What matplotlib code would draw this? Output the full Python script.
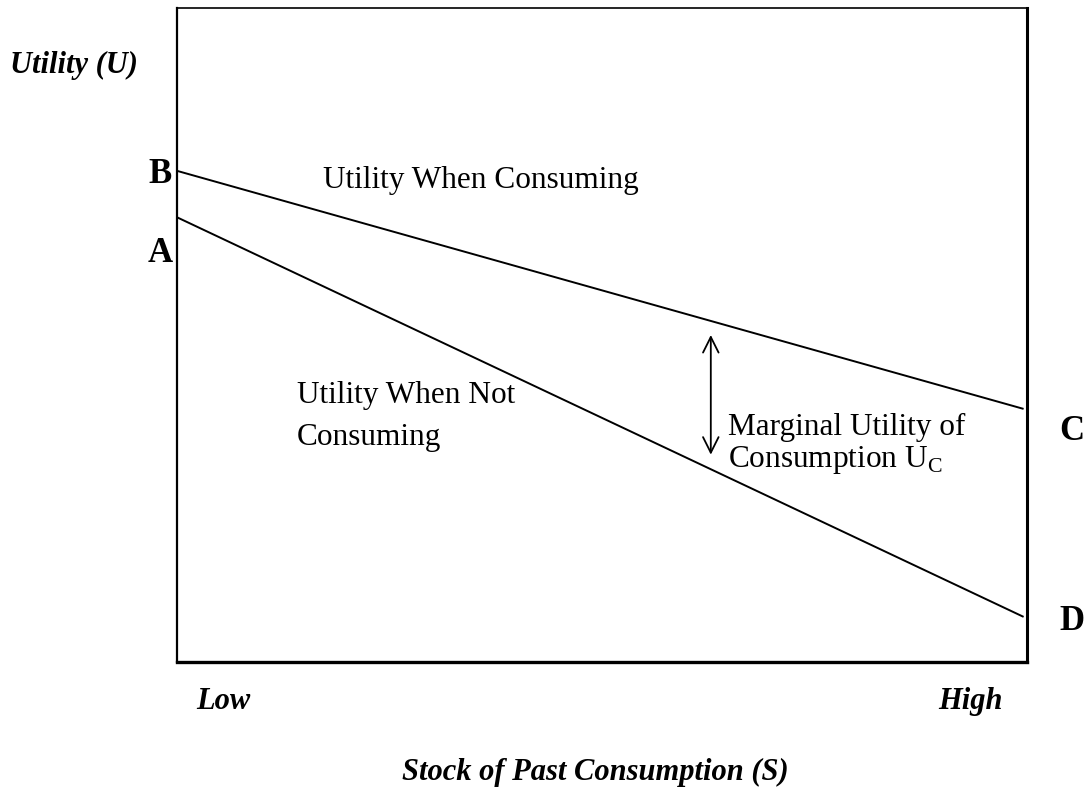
import matplotlib
matplotlib.use("Agg")
import matplotlib.pyplot as plt

# Data (normalized axes units)
stock = [0.0, 0.996]
utility_consuming = [0.751, 0.387]
utility_not_consuming = [0.680, 0.069]
arrow_x = 0.628
arrow_y = [0.317, 0.500]
point_labels = ["B", "A", "C", "D"]
x_tick_labels = ["Low", "High"]

plt.rcParams['font.family'] = ['Liberation Serif', 'DejaVu Serif']
plt.rcParams['mathtext.fontset'] = 'custom'
plt.rcParams['mathtext.rm'] = 'Liberation Serif'

W, H = 1092, 792
fig = plt.figure(figsize=(W / 100, H / 100), dpi=100)
ax = fig.add_axes([177 / W, 1 - 662 / H, 850 / W, 654 / H])
ax.set_xlim(0, 1)
ax.set_ylim(0, 1)
ax.set_xticks([])
ax.set_yticks([])
for side, lw in [("left", 1.6), ("top", 1.2), ("right", 2.2), ("bottom", 2.4)]:
    ax.spines[side].set_linewidth(lw)
    ax.spines[side].set_color("black")

ax.plot(stock, utility_consuming, color="black", lw=1.4, solid_capstyle="butt")
ax.plot(stock, utility_not_consuming, color="black", lw=1.4, solid_capstyle="butt")

ax.annotate("", xy=(arrow_x, arrow_y[1]), xytext=(arrow_x, arrow_y[0]),
            arrowprops=dict(arrowstyle="<->", color="black", lw=1.3,
                            mutation_scale=28, shrinkA=0, shrinkB=0))


def px(x, y):
    return x / W, 1 - y / H


fs = 22.5
fig.text(*px(323, 188), "Utility When Consuming", fontsize=fs, ha="left", va="baseline")
fig.text(*px(297, 403), "Utility When Not", fontsize=fs, ha="left", va="baseline")
fig.text(*px(297, 445), "Consuming", fontsize=fs, ha="left", va="baseline")
fig.text(*px(728, 435), "Marginal Utility of", fontsize=fs, ha="left", va="baseline")
fig.text(*px(728, 467), "Consumption U$_\\mathrm{C}$", fontsize=fs, ha="left", va="baseline")

# point labels
fs_pt = 25
fig.text(*px(160, 183), point_labels[0], fontsize=fs_pt, fontweight="bold", ha="center", va="baseline")
fig.text(*px(160, 262), point_labels[1], fontsize=fs_pt, fontweight="bold", ha="center", va="baseline")
fig.text(*px(1072, 440), point_labels[2], fontsize=fs_pt, fontweight="bold", ha="center", va="baseline")
fig.text(*px(1072, 630), point_labels[3], fontsize=fs_pt, fontweight="bold", ha="center", va="baseline")

# axis labels
fsl = 22
fig.text(*px(10, 73), "Utility (U)", fontsize=fsl, fontweight="bold", fontstyle="italic",
         ha="left", va="baseline")
fig.text(*px(196, 709), x_tick_labels[0], fontsize=fsl, fontweight="bold", fontstyle="italic",
         ha="left", va="baseline")
fig.text(*px(1003, 709), x_tick_labels[1], fontsize=fsl, fontweight="bold", fontstyle="italic",
         ha="right", va="baseline")
fig.text(*px(595, 780), "Stock of Past Consumption (S)", fontsize=fsl, fontweight="bold",
         fontstyle="italic", ha="center", va="baseline")

fig.savefig("out.png", dpi=100, facecolor="white")
